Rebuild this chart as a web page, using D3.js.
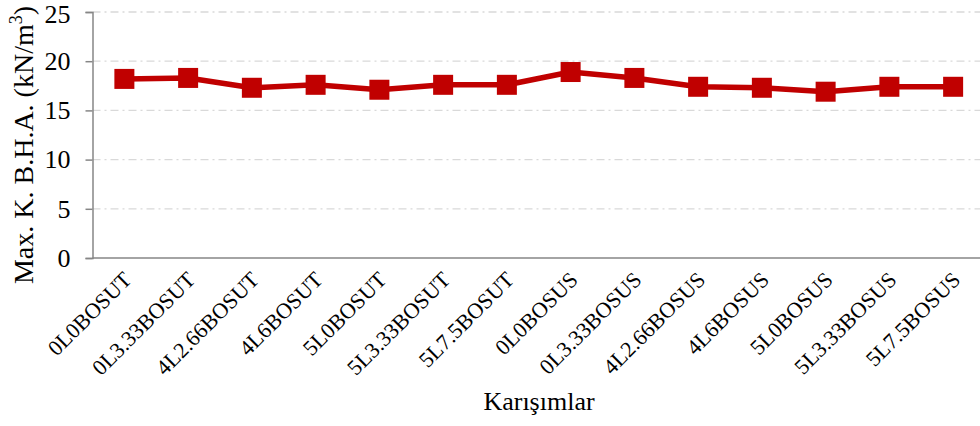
<!DOCTYPE html>
<html>
<head>
<meta charset="utf-8">
<script src="https://cdn.jsdelivr.net/npm/d3@7"></script>
<style>
  html, body { margin: 0; padding: 0; background: #fff; }
  svg { display: block; }
  text { font-family: "Liberation Serif", "Times New Roman", serif; fill: #000; }
</style>
</head>
<body>
<svg id="chart" width="980" height="426"></svg>
<script>
const categories = ["0L0BOSUT", "0L3.33BOSUT", "4L2.66BOSUT", "4L6BOSUT", "5L0BOSUT", "5L3.33BOSUT", "5L7.5BOSUT",
                    "0L0BOSUS", "0L3.33BOSUS", "4L2.66BOSUS", "4L6BOSUS", "5L0BOSUS", "5L3.33BOSUS", "5L7.5BOSUS"];
const values = [18.2, 18.3, 17.3, 17.6, 17.1, 17.6, 17.6, 18.9, 18.3, 17.4, 17.3, 16.9, 17.4, 17.4];
const yTicks = [0, 5, 10, 15, 20, 25];
const xTitle = "Karışımlar";
const yTitle = "Max. K. B.H.A. (kN/m";
const yTitleSup = "3";

const svg = d3.select("#chart");
const plotL = 92.5, plotR = 985, plotT = 12, plotB = 258;

const x = d3.scalePoint().domain(categories).range([plotL, plotR]).padding(0.5);
const y = d3.scaleLinear().domain([0, 25]).range([plotB, plotT]);

// gridlines
svg.append("g")
  .selectAll("line")
  .data(yTicks.filter(d => d > 0))
  .join("line")
  .attr("x1", plotL).attr("x2", plotR)
  .attr("y1", d => y(d)).attr("y2", d => y(d))
  .attr("stroke", "#d9d9d9")
  .attr("stroke-width", 1.3)
  .attr("stroke-dasharray", "8,4,2,4");

// y axis
const yAxis = svg.append("g")
  .attr("transform", `translate(${plotL},0)`)
  .call(d3.axisLeft(y).tickValues(yTicks).tickSize(7).tickPadding(15).tickFormat(d3.format("d")));
yAxis.select(".domain").attr("stroke", "#868686").attr("stroke-width", 1.5);
yAxis.selectAll(".tick line").attr("stroke", "#868686").attr("stroke-width", 1.5);
yAxis.selectAll(".tick text").attr("font-size", 26).attr("font-family", "Liberation Serif").attr("fill", "#000")
  .attr("dy", d => d === 25 ? "0.42em" : "0.32em");

// x axis
const xAxis = svg.append("g")
  .attr("transform", `translate(0,${plotB})`)
  .call(d3.axisBottom(x).tickSize(0).tickPadding(0));
xAxis.select(".domain").attr("stroke", "#868686").attr("stroke-width", 1.5)
  .attr("d", `M${plotL},0H${plotR}`);
xAxis.selectAll(".tick text")
  .attr("font-size", 22)
  .attr("font-family", "Liberation Serif")
  .attr("fill", "#000")
  .attr("text-anchor", "end")
  .attr("dy", 0)
  .attr("transform", "translate(8,23) rotate(-45)");

// line
svg.append("path")
  .datum(values)
  .attr("fill", "none")
  .attr("stroke", "#c00000")
  .attr("stroke-width", 5.5)
  .attr("stroke-linejoin", "round")
  .attr("d", d3.line().x((d, i) => x(categories[i])).y(d => y(d)));

// markers
const ms = 20;
svg.append("g")
  .selectAll("rect")
  .data(values)
  .join("rect")
  .attr("x", (d, i) => x(categories[i]) - ms / 2)
  .attr("y", d => y(d) - ms / 2)
  .attr("width", ms).attr("height", ms)
  .attr("fill", "#c00000");

// titles
svg.append("text")
  .attr("x", 539)
  .attr("y", 410)
  .attr("text-anchor", "middle")
  .attr("font-size", 26)
  .text(xTitle);

const yt = svg.append("text")
  .attr("transform", `translate(33,145) rotate(-90)`)
  .attr("text-anchor", "middle")
  .attr("font-size", 28);
yt.append("tspan").text(yTitle);
yt.append("tspan").attr("font-size", 18).attr("dy", -11).text(yTitleSup);
yt.append("tspan").attr("dy", 11).text(")");
</script>
</body>
</html>
